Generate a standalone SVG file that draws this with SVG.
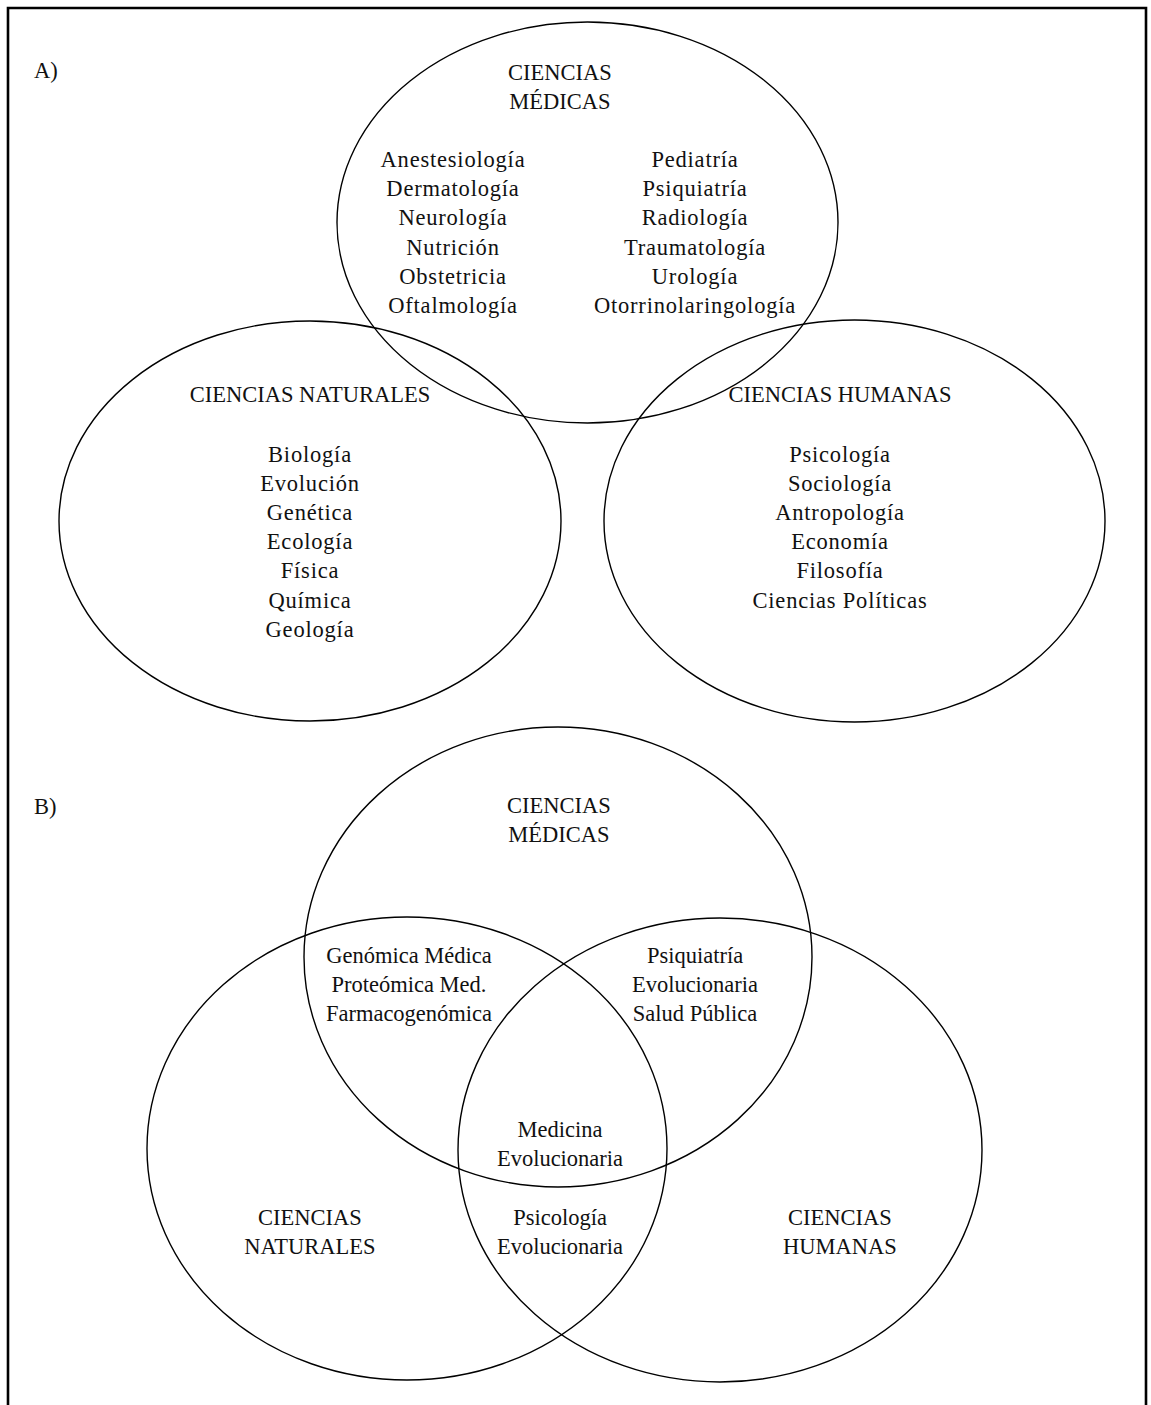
<svg xmlns="http://www.w3.org/2000/svg" width="1151" height="1405" viewBox="0 0 1151 1405">
<style>
.sh{fill:none;stroke:#000;stroke-width:1.4}
.fr{fill:none;stroke:#000;stroke-width:2.6}
text{font-family:"Liberation Serif","Times New Roman",serif;font-size:22.5px;fill:#111;text-anchor:middle}
.l{text-anchor:start}
.i{letter-spacing:0.8px}
</style>
<rect width="1151" height="1405" fill="#fff"/>
<path class="fr" d="M8,1405 V8 H1146 V1405"/>
<g id="panelA">
<text class="l" x="34" y="78">A)</text>
<g id="a-medicas">
<ellipse class="sh" cx="587.5" cy="222.5" rx="250.5" ry="200.5"/>
<text x="560" y="80">CIENCIAS</text>
<text x="560" y="109">MÉDICAS</text>
<g class="i">
<text x="453" y="167">Anestesiología</text>
<text x="453" y="196">Dermatología</text>
<text x="453" y="225">Neurología</text>
<text x="453" y="255">Nutrición</text>
<text x="453" y="284">Obstetricia</text>
<text x="453" y="313">Oftalmología</text>
<text x="695" y="167">Pediatría</text>
<text x="695" y="196">Psiquiatría</text>
<text x="695" y="225">Radiología</text>
<text x="695" y="255">Traumatología</text>
<text x="695" y="284">Urología</text>
<text x="695" y="313">Otorrinolaringología</text>
</g>
</g>
<g id="a-naturales">
<ellipse class="sh" cx="310" cy="521" rx="251" ry="200"/>
<text x="310" y="402">CIENCIAS NATURALES</text>
<g class="i">
<text x="310" y="462">Biología</text>
<text x="310" y="491">Evolución</text>
<text x="310" y="520">Genética</text>
<text x="310" y="549">Ecología</text>
<text x="310" y="578">Física</text>
<text x="310" y="608">Química</text>
<text x="310" y="637">Geología</text>
</g>
</g>
<g id="a-humanas">
<ellipse class="sh" cx="854.5" cy="521" rx="250.5" ry="201"/>
<text x="840" y="402">CIENCIAS HUMANAS</text>
<g class="i">
<text x="840" y="462">Psicología</text>
<text x="840" y="491">Sociología</text>
<text x="840" y="520">Antropología</text>
<text x="840" y="549">Economía</text>
<text x="840" y="578">Filosofía</text>
<text x="840" y="608">Ciencias Políticas</text>
</g>
</g>
</g>
<g id="panelB">
<text class="l" x="34" y="814">B)</text>
<g id="b-medicas">
<ellipse class="sh" cx="558" cy="957" rx="254" ry="230"/>
<text x="559" y="813">CIENCIAS</text>
<text x="559" y="842">MÉDICAS</text>
</g>
<g id="b-naturales">
<ellipse class="sh" cx="407" cy="1148.5" rx="260" ry="231.5"/>
<text x="310" y="1225">CIENCIAS</text>
<text x="310" y="1254">NATURALES</text>
</g>
<g id="b-humanas">
<ellipse class="sh" cx="720" cy="1150" rx="262" ry="232"/>
<text x="840" y="1225">CIENCIAS</text>
<text x="840" y="1254">HUMANAS</text>
</g>
<g id="b-med-nat">
<text x="409" y="963">Genómica Médica</text>
<text x="409" y="992">Proteómica Med.</text>
<text x="409" y="1021">Farmacogenómica</text>
</g>
<g id="b-med-hum">
<text x="695" y="963">Psiquiatría</text>
<text x="695" y="992">Evolucionaria</text>
<text x="695" y="1021">Salud Pública</text>
</g>
<g id="b-centro">
<text x="560" y="1137">Medicina</text>
<text x="560" y="1166">Evolucionaria</text>
</g>
<g id="b-nat-hum">
<text x="560" y="1225">Psicología</text>
<text x="560" y="1254">Evolucionaria</text>
</g>
</g>
</svg>
